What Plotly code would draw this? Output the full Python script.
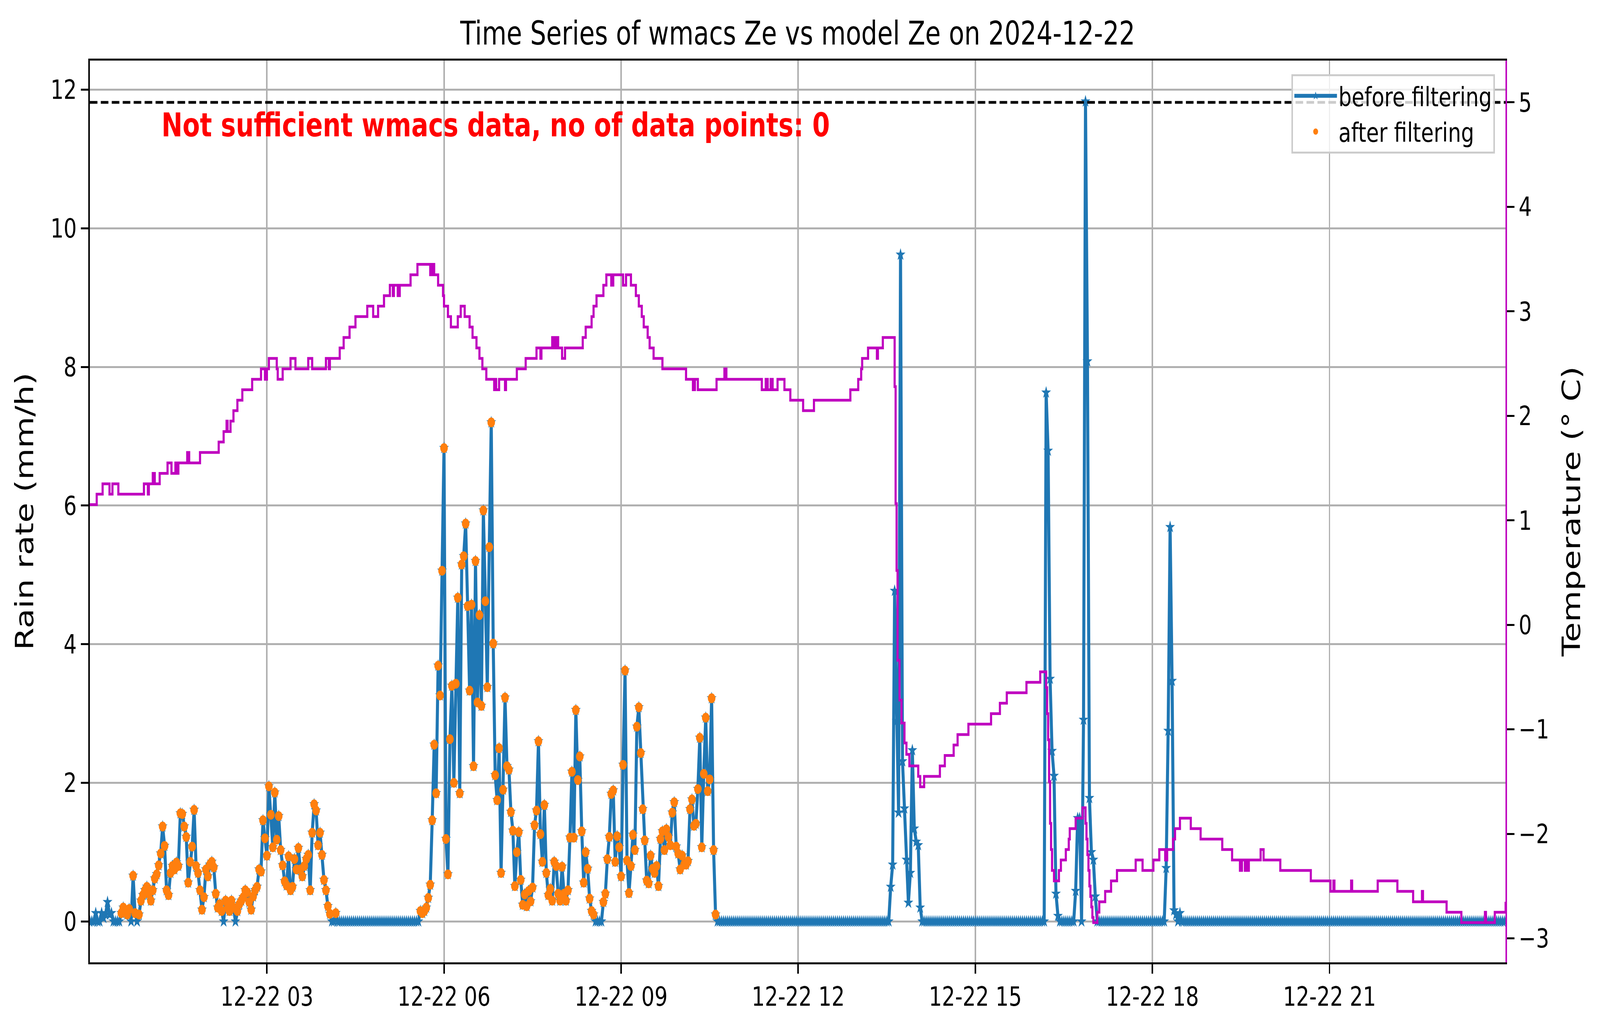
import pandas as pd
import plotly.graph_objects as go

day = "2024-12-22"

# rain rate (mm/h), one value every 2 minutes, one row per hour
rain_rows = [
    [0, 0, 0, 0.12, 0, 0, 0.12, 0.05, 0.1, 0.28, 0.1, 0.12, 0, 0, 0, 0, 0.12, 0.2, 0.15, 0.1, 0.18, 0, 0.66, 0.12, 0, 0.1, 0.3, 0.38, 0.45, 0.5],  # 00h
    [0.4, 0.3, 0.45, 0.62, 0.68, 0.81, 0.98, 1.37, 1.09, 0.45, 0.38, 0.7, 0.8, 0.75, 0.85, 0.8, 1.56, 1.55, 1.37, 1.22, 0.56, 0.86, 1.08, 1.61, 0.8, 0.7, 0.45, 0.17, 0.35, 0.75],  # 01h
    [0.65, 0.82, 0.86, 0.78, 0.4, 0.2, 0.25, 0.15, 0, 0.3, 0.2, 0.15, 0.3, 0.2, 0, 0.15, 0.25, 0.3, 0.35, 0.45, 0.42, 0.28, 0.17, 0.36, 0.45, 0.5, 0.75, 0.72, 1.46, 1.2],  # 02h
    [0.95, 1.95, 1.54, 1.07, 1.86, 1.18, 1.52, 1.03, 0.81, 0.58, 0.52, 0.94, 0.45, 0.5, 0.9, 0.75, 1.06, 0.75, 0.65, 0.8, 0.9, 0.96, 0.45, 1.28, 1.69, 1.6, 1.1, 1.28, 0.96, 0.6],  # 03h
    [0.45, 0.22, 0.11, 0, 0, 0.12, 0, 0, 0, 0, 0, 0, 0, 0, 0, 0, 0, 0, 0, 0, 0, 0, 0, 0, 0, 0, 0, 0, 0, 0],  # 04h
    [0, 0, 0, 0, 0, 0, 0, 0, 0, 0, 0, 0, 0, 0, 0, 0, 0, 0, 0.15, 0.12, 0.15, 0.2, 0.34, 0.53, 1.46, 2.55, 1.85, 3.69, 3.26, 5.06],  # 05h
    [6.83, 1.19, 0.68, 2.63, 3.4, 2.0, 3.43, 4.67, 1.85, 5.15, 5.27, 5.74, 4.55, 3.33, 4.57, 2.24, 5.2, 3.16, 4.42, 3.11, 5.93, 4.62, 3.38, 5.4, 7.2, 4.01, 2.11, 1.75, 2.5, 0.7],  # 06h
    [1.9, 3.23, 2.24, 2.19, 1.58, 1.31, 0.51, 1.0, 1.29, 0.6, 0.24, 0.39, 0.22, 0.44, 0.29, 0.49, 1.39, 1.6, 2.6, 1.26, 0.86, 1.68, 0.7, 0.38, 0.47, 0.3, 0.86, 0.8, 0.4, 0.3],  # 07h
    [0.79, 0.4, 0.3, 0.45, 1.21, 2.16, 1.21, 3.05, 2.04, 2.38, 1.3, 0.56, 1.0, 0.76, 0.33, 0.15, 0.1, 0, 0, 0, 0, 0.28, 0.4, 0.9, 1.22, 1.84, 1.89, 0.86, 1.23, 1.07],  # 08h
    [0.65, 2.26, 3.62, 0.88, 0.41, 0.8, 1.25, 1.03, 2.81, 3.09, 2.43, 1.62, 1.17, 0.59, 0.55, 0.95, 0.76, 0.7, 0.8, 0.51, 1.19, 1.3, 1.03, 1.33, 1.22, 1.1, 1.57, 1.72, 1.08, 0.98],  # 09h
    [0.75, 0.95, 0.82, 0.82, 0.87, 1.62, 1.76, 1.38, 1.41, 1.91, 2.65, 1.07, 2.13, 2.94, 1.88, 2.05, 3.22, 1.03, 0.1, 0, 0, 0, 0, 0, 0, 0, 0, 0, 0, 0],  # 10h
    [0, 0, 0, 0, 0, 0, 0, 0, 0, 0, 0, 0, 0, 0, 0, 0, 0, 0, 0, 0, 0, 0, 0, 0, 0, 0, 0, 0, 0, 0],  # 11h
    [0, 0, 0, 0, 0, 0, 0, 0, 0, 0, 0, 0, 0, 0, 0, 0, 0, 0, 0, 0, 0, 0, 0, 0, 0, 0, 0, 0, 0, 0],  # 12h
    [0, 0, 0, 0, 0, 0, 0, 0, 0, 0, 0, 0, 0, 0, 0, 0, 0, 0.5, 0.82, 4.77, 2.89, 1.57, 9.62, 2.31, 1.63, 0.89, 0.27, 0.7, 2.47, 1.34],  # 13h
    [1.15, 1.1, 0.2, 0, 0, 0, 0, 0, 0, 0, 0, 0, 0, 0, 0, 0, 0, 0, 0, 0, 0, 0, 0, 0, 0, 0, 0, 0, 0, 0],  # 14h
    [0, 0, 0, 0, 0, 0, 0, 0, 0, 0, 0, 0, 0, 0, 0, 0, 0, 0, 0, 0, 0, 0, 0, 0, 0, 0, 0, 0, 0, 0],  # 15h
    [0, 0, 0, 0, 0, 0, 7.63, 6.79, 3.5, 2.46, 2.1, 0.4, 0.08, 0, 0, 0, 0, 0, 0, 0, 0, 0.44, 1.49, 1.49, 0, 2.91, 11.83, 8.08, 1.78, 1.0],  # 16h
    [0.89, 0.36, 0, 0, 0, 0, 0, 0, 0, 0, 0, 0, 0, 0, 0, 0, 0, 0, 0, 0, 0, 0, 0, 0, 0, 0, 0, 0, 0, 0],  # 17h
    [0, 0, 0, 0, 0, 0, 0, 0.77, 2.75, 5.69, 3.47, 0.16, 0.1, 0, 0.12, 0, 0, 0, 0, 0, 0, 0, 0, 0, 0, 0, 0, 0, 0, 0],  # 18h
    [0, 0, 0, 0, 0, 0, 0, 0, 0, 0, 0, 0, 0, 0, 0, 0, 0, 0, 0, 0, 0, 0, 0, 0, 0, 0, 0, 0, 0, 0],  # 19h
    [0, 0, 0, 0, 0, 0, 0, 0, 0, 0, 0, 0, 0, 0, 0, 0, 0, 0, 0, 0, 0, 0, 0, 0, 0, 0, 0, 0, 0, 0],  # 20h
    [0, 0, 0, 0, 0, 0, 0, 0, 0, 0, 0, 0, 0, 0, 0, 0, 0, 0, 0, 0, 0, 0, 0, 0, 0, 0, 0, 0, 0, 0],  # 21h
    [0, 0, 0, 0, 0, 0, 0, 0, 0, 0, 0, 0, 0, 0, 0, 0, 0, 0, 0, 0, 0, 0, 0, 0, 0, 0, 0, 0, 0, 0],  # 22h
    [0, 0, 0, 0, 0, 0, 0, 0, 0, 0, 0, 0, 0, 0, 0, 0, 0, 0, 0, 0, 0, 0, 0, 0, 0, 0, 0, 0, 0, 0],  # 23h
]

# window in which the filtered (orange) points were kept
filter_window = ("2024-12-22 00:32", "2024-12-22 10:40")

# temperature (deg C), minute of day where the reading changes -> new value
temp_minute = [0, 7, 13, 20, 23, 29, 55, 59, 60, 64, 66, 71, 79, 83, 87, 88, 90, 99, 101, 112,
               131, 136, 139, 140, 143, 146, 150, 155, 165, 174, 178, 180, 182, 190, 191, 196, 204, 209, 222, 226,
               240, 243, 244, 254, 258, 264, 270, 282, 288, 293, 299, 305, 308, 309, 313, 315, 326, 333, 346, 348,
               350, 354, 359, 360, 364, 367, 374, 377, 381, 386, 389, 393, 396, 399, 403, 411, 412, 413, 416, 422,
               423, 434, 443, 454, 458, 459, 470, 472, 474, 476, 480, 483, 501, 504, 510, 512, 515, 522, 525, 530,
               532, 542, 545, 550, 555, 558, 561, 563, 567, 569, 573, 582, 606, 613, 615, 618, 637, 645, 647, 683,
               687, 689, 692, 694, 699, 706, 712, 725, 736, 773, 781, 784, 785, 791, 800, 801, 806, 817, 818, 819,
               820, 821, 823, 825, 828, 830, 833, 842, 844, 848, 864, 869, 878, 882, 893, 916, 925, 932, 952, 966,
               971, 972, 973, 974, 975, 976, 977, 978, 980, 985, 987, 992, 995, 996, 1002, 1009, 1011, 1012, 1013, 1014,
               1015, 1016, 1017, 1018, 1019, 1020, 1024, 1026, 1032, 1038, 1044, 1063, 1070, 1081, 1087, 1093, 1095, 1101, 1103, 1108,
               1119, 1129, 1151, 1161, 1169, 1171, 1174, 1176, 1177, 1178, 1190, 1193, 1210, 1241, 1261, 1264, 1265, 1282, 1283, 1309,
               1329, 1345, 1354, 1355, 1379, 1394, 1418, 1419, 1428, 1439]
temp_value = [1.15, 1.25, 1.35, 1.25, 1.35, 1.25, 1.35, 1.25, 1.35, 1.45, 1.35, 1.45, 1.55, 1.45, 1.55, 1.45, 1.55, 1.65, 1.55, 1.65,
              1.75, 1.85, 1.95, 1.85, 1.95, 2.05, 2.15, 2.25, 2.35, 2.45, 2.35, 2.45, 2.55, 2.45, 2.35, 2.45, 2.55, 2.45, 2.55, 2.45,
              2.55, 2.45, 2.55, 2.65, 2.75, 2.85, 2.95, 3.05, 2.95, 3.05, 3.15, 3.25, 3.15, 3.25, 3.15, 3.25, 3.35, 3.45, 3.35, 3.45,
              3.35, 3.25, 3.15, 3.05, 2.95, 2.85, 2.95, 3.05, 2.95, 2.85, 2.75, 2.65, 2.55, 2.45, 2.35, 2.25, 2.35, 2.25, 2.35, 2.25,
              2.35, 2.45, 2.55, 2.65, 2.55, 2.65, 2.75, 2.65, 2.75, 2.65, 2.55, 2.65, 2.75, 2.85, 2.95, 3.05, 3.15, 3.25, 3.35, 3.25,
              3.35, 3.25, 3.35, 3.25, 3.15, 3.05, 2.95, 2.85, 2.75, 2.65, 2.55, 2.45, 2.35, 2.25, 2.35, 2.25, 2.35, 2.45, 2.35, 2.25,
              2.35, 2.25, 2.35, 2.25, 2.35, 2.25, 2.15, 2.05, 2.15, 2.25, 2.35, 2.45, 2.55, 2.65, 2.55, 2.65, 2.75, 2.75, 2.28, 1.16,
              0.52, -0.34, -0.72, -0.94, -1.13, -1.24, -1.35, -1.45, -1.55, -1.45, -1.35, -1.25, -1.15, -1.05, -0.95, -0.85, -0.75, -0.65, -0.55, -0.45,
              -0.45, -0.6, -0.85, -1.1, -1.5, -1.9, -2.15, -2.35, -2.45, -2.35, -2.25, -2.15, -2.05, -1.95, -1.85, -1.75, -1.75, -1.9, -2.05, -2.2,
              -2.35, -2.5, -2.6, -2.7, -2.8, -2.85, -2.75, -2.65, -2.55, -2.45, -2.35, -2.25, -2.35, -2.25, -2.15, -2.25, -2.15, -2.05, -1.95, -1.85,
              -1.95, -2.05, -2.15, -2.25, -2.35, -2.25, -2.35, -2.25, -2.35, -2.25, -2.15, -2.25, -2.35, -2.45, -2.55, -2.45, -2.55, -2.45, -2.55, -2.45,
              -2.55, -2.65, -2.55, -2.65, -2.75, -2.85, -2.75, -2.85, -2.75, -2.65]

temp_ref_line = 5.0
hour_ticks = [3, 6, 9, 12, 15, 18, 21]

title = "Time Series of wmacs Ze vs model Ze on 2024-12-22"
warning = "Not sufficient wmacs data, no of data points: 0"

rain = pd.DataFrame({"rate": [v for row in rain_rows for v in row]})
rain["time"] = pd.date_range(day, periods=len(rain), freq="2min")
kept = rain[(rain["time"] >= filter_window[0]) & (rain["time"] <= filter_window[1]) & (rain["rate"] > 0)]

temp_time = pd.Timestamp(day) + pd.to_timedelta(temp_minute, unit="min")
tick_times = [pd.Timestamp(day) + pd.Timedelta(hours=h) for h in hour_ticks]

W, H = 5255, 2631
blue = "#1f77b4"
orange = "#ff7f0e"
magenta = "#bf00bf"
grid = "#b0b0b0"
font = "DejaVu Sans"

fig = go.Figure()
fig.add_trace(go.Scatter(x=rain["time"], y=rain["rate"], mode="lines+markers", name="before filtering",
                         line=dict(color=blue, width=10),
                         marker=dict(symbol="star", size=24, color=blue)))
fig.add_trace(go.Scatter(x=kept["time"], y=kept["rate"], mode="markers", name="after filtering",
                         marker=dict(symbol="circle", size=25, color=orange)))
fig.add_trace(go.Scatter(x=temp_time, y=temp_value, yaxis="y2", mode="lines", showlegend=False,
                         line=dict(color=magenta, width=7, shape="hv")))

fig.add_shape(type="line", xref="x domain", x0=0, x1=1, yref="y2", y0=temp_ref_line, y1=temp_ref_line,
              line=dict(color="black", width=6.8, dash="25px,11px"), layer="above")

axis_common = dict(ticks="outside", ticklen=24, tickwidth=5.4, tickcolor="black",
                   tickfont=dict(size=68, color="black", family=font), zeroline=False, showline=True,
                   linewidth=5.4)

fig.update_layout(
    width=W, height=H,
    margin=dict(l=295, r=310, t=155, b=168, pad=0),
    paper_bgcolor="white", plot_bgcolor="white",
    font=dict(family=font, color="black"),
    title=dict(text=title, x=0.5, xref="paper", xanchor="center",
               y=1 - 114 / H, yref="container", yanchor="bottom",
               font=dict(size=83, color="black", family=font)),
    xaxis=dict(range=[pd.Timestamp(day), pd.Timestamp(day) + pd.Timedelta(minutes=1439)],
               tickvals=tick_times, tickformat="%m-%d %H", showgrid=True, gridcolor=grid, gridwidth=5.4,
               linecolor="black", mirror=True, **axis_common),
    yaxis=dict(range=[-0.59, 12.42], tick0=0, dtick=2, showgrid=True, gridcolor=grid, gridwidth=5.4,
               linecolor="black", **axis_common),
    yaxis2=dict(range=[-3.23, 5.40], tick0=0, dtick=1, overlaying="y", side="right", showgrid=False,
                linecolor=magenta, **axis_common),
    legend=dict(x=0.9925, y=0.985, xanchor="right", yanchor="top", bgcolor="rgba(255,255,255,0.8)",
                bordercolor="#cccccc", borderwidth=5, font=dict(size=68, color="black", family=font),
                itemwidth=140, tracegroupgap=0),
    annotations=[
        dict(text=warning, xref="paper", yref="paper", x=0.05, y=0.95, xanchor="left", yanchor="top",
             showarrow=False, font=dict(size=83, color="red", family=font, weight="bold")),
        dict(text="Rain rate (mm/h)", xref="paper", yref="paper", x=(80 - 295) / 4650, y=0.5,
             xanchor="center", yanchor="middle", textangle=-90, showarrow=False,
             font=dict(size=83, color="black", family=font)),
        dict(text="Temperature (° C)", xref="paper", yref="paper", x=(5160 - 295) / 4650, y=0.5,
             xanchor="center", yanchor="middle", textangle=-90, showarrow=False,
             font=dict(size=83, color="black", family=font)),
    ],
)

# fit the fixed-size figure to whatever viewport the page is opened in
fit_page = """
document.documentElement.style.overflow = 'hidden';
document.body.style.margin = '0';
document.body.style.overflow = 'hidden';
var gd = document.getElementById('{plot_id}');
gd.style.transformOrigin = '0 0';
gd.style.transform = 'scale(' + (window.innerWidth / %d) + ',' + (window.innerHeight / %d) + ')';
""" % (W, H)

fig.write_html("out.html", config={"displayModeBar": False}, post_script=fit_page)
